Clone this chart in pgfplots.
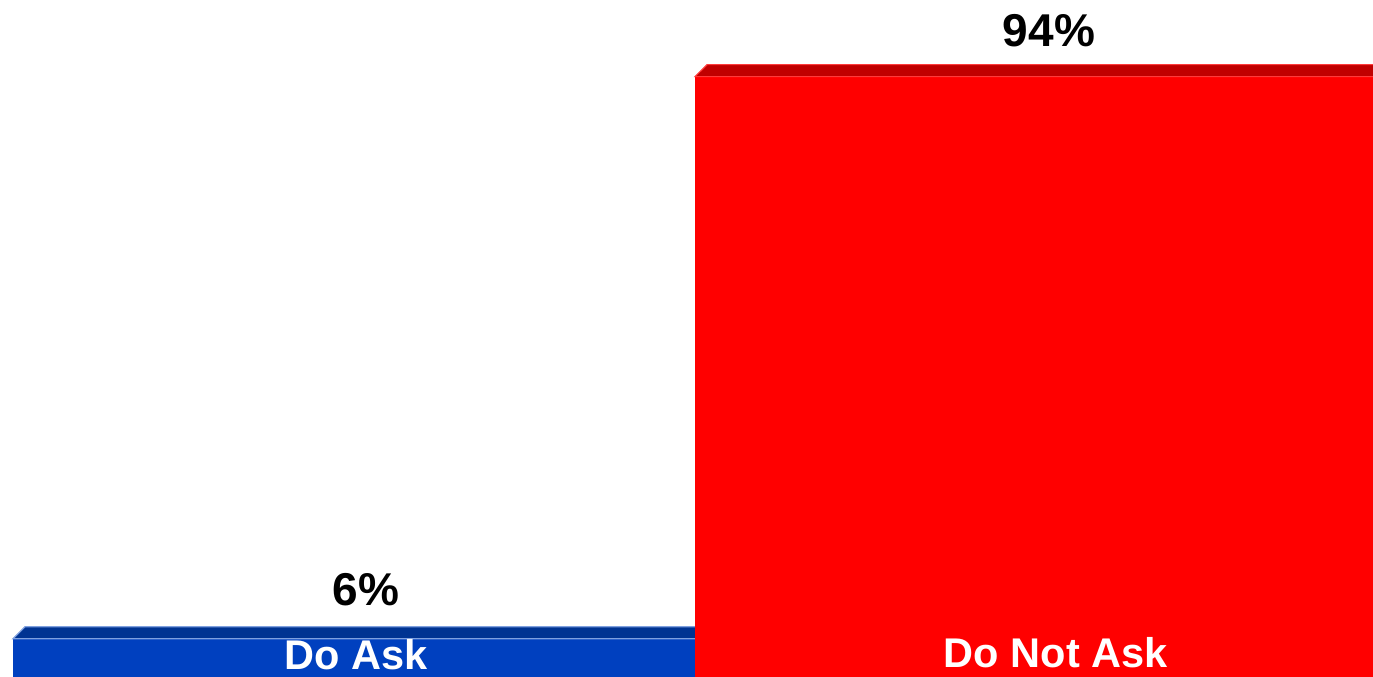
\documentclass[border=0pt]{standalone}
\usepackage{pgfplots}
\pgfplotsset{compat=1.18}
\usepackage{fontspec}
\setmainfont{Liberation Sans}
\definecolor{frontblue}{HTML}{0040BF}
\definecolor{topblue}{HTML}{003392}
\definecolor{edgeblue}{HTML}{7FA0DF}
\definecolor{frontred}{HTML}{FF0000}
\definecolor{topred}{HTML}{C00000}
\definecolor{edgered}{HTML}{FF3A3A}
\begin{document}
\begin{tikzpicture}
\begin{axis}[
  scale only axis,
  width=686.5pt, height=338.5pt,
  xmin=-0.01906, xmax=1.99413,
  ymin=0, ymax=106,
  hide axis,
  clip=true,
  /pgf/number format/assume math mode=true,
]
\path (rel axis cs:0,0) rectangle (rel axis cs:1,1);
% blue bar
\addplot[ybar, bar width=1, bar shift=0pt, fill=frontblue, draw=none,
  nodes near coords={\pgfmathprintnumber{\pgfplotspointmeta}\%},
  every node near coord/.append style={anchor=south, inner sep=0pt, yshift=16pt, xshift=6pt, text=black, font=\fontsize{23}{23}\selectfont\bfseries}]
  coordinates {(0.5,6)};
\addplot[fill=topblue, draw=edgeblue, line width=0.6pt]
  coordinates {(0,6) (0.0176,7.875) (1.1,7.875) (1.1,6)} -- cycle;
% red bar
\addplot[ybar, bar width=1, bar shift=0pt, fill=frontred, draw=none,
  nodes near coords={\pgfmathprintnumber{\pgfplotspointmeta}\%},
  every node near coord/.append style={anchor=south, inner sep=0pt, yshift=14.5pt, xshift=6.5pt, text=black, font=\fontsize{23}{23}\selectfont\bfseries}]
  coordinates {(1.5,94)};
\addplot[fill=topred, draw=edgered, line width=0.6pt]
  coordinates {(1,94) (1.0176,95.875) (2.1,95.875) (2.1,94)} -- cycle;
% category labels
\node[anchor=base, text=white, inner sep=0pt, font=\fontsize{20.75}{20.75}\selectfont\bfseries] at (axis cs:0.503,1.23) {Do Ask};
\node[anchor=base, text=white, inner sep=0pt, font=\fontsize{20.75}{20.75}\selectfont\bfseries] at (axis cs:1.529,1.55) {Do Not Ask};
\end{axis}
\end{tikzpicture}
\end{document}
